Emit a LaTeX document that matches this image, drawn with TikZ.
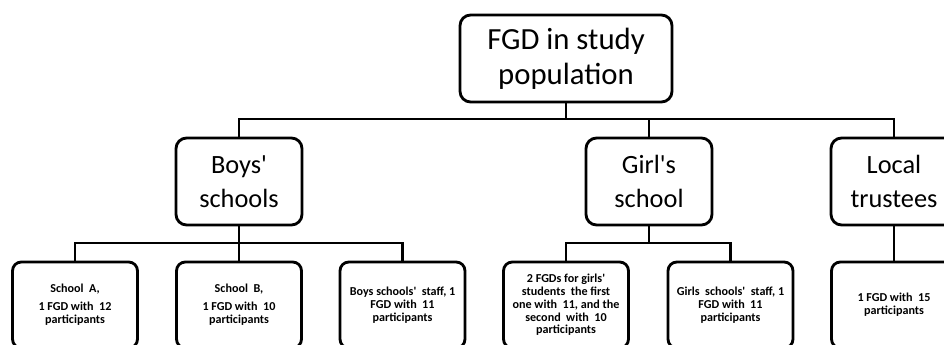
\documentclass[tikz,border=0pt]{standalone}
\usepackage{fontspec}
\setmainfont{Carlito}
\usetikzlibrary{positioning, calc}
\newcommand{\sq}{\textquotesingle}
\tikzset{
    bigbox/.style={draw, rounded corners=6pt, line width=1.6pt, align=center,
        font=\fontsize{15}{19.5}\selectfont, minimum height=1.74cm, inner sep=2pt},
    smallbox/.style={draw, rounded corners=5pt, line width=1.6pt, align=center,
        font=\bfseries\fontsize{6.9}{7.3}\selectfont, minimum width=2.5cm, minimum height=1.72cm, inner sep=1pt},
    bar/.style={line width=1.6pt}
}

\begin{document}
\begin{tikzpicture}[x=0.02cm, y=-0.02cm]
    \useasboundingbox (0,0) rectangle (944,345);
    \clip (0,0) rectangle (944,345);
    \coordinate (bus1) at (0,119);
    \coordinate (bus2) at (0,243);
    % first two levels
    \node[bigbox, minimum width=4.24cm, font=\fontsize{17.5}{20}\selectfont] (fgd) at (566,58.5) {FGD in study\\population};
    \node[bigbox, minimum width=2.52cm] (boys) at (239,181.5) {Boys\sq\\schools};
    \node[bigbox, minimum width=2.52cm] (girls) at (649,181.5) {Girl\sq s\\school};
    \node[bigbox, minimum width=2.52cm] (local) at (894,181.5) {Local\\trustees};
    % groups
    \node[smallbox] (schA) at (75,305) {School\ \ A,\\[3pt]1 FGD with\ \ 12\\participants};
    \node[smallbox] (schB) at (239,305) {School\ \ B,\\[3pt]1 FGD with\ \ 10\\participants};
    \node[smallbox] (bstaff) at (402.5,305) {Boys schools\sq\ \ staff, 1\\FGD with\ \ 11\\participants};
    \node[smallbox] (gstud) at (566,305) {2 FGDs for girls\sq\\students\ \ the first\\one with\ \ 11, and the\\second\ \ with\ \ 10\\participants};
    \node[smallbox] (gstaff) at (730.5,305) {Girls\ \ schools\sq\ \ staff, 1\\FGD with\ \ 11\\participants};
    \node[smallbox] (trust) at (894,305) {1 FGD with\ \ 15\\participants};
    % connectors
    \draw[bar] (fgd.south) -- (fgd.south |- bus1);
    \draw[bar] (boys.north) |- (local.north |- bus1) -- (local.north);
    \draw[bar] (girls.north) -- (girls.north |- bus1);
    \draw[bar] (boys.south) -- (boys.south |- bus2);
    \draw[bar] (schA.north) |- (bstaff.north |- bus2) -- (bstaff.north);
    \draw[bar] (schB.north) -- (schB.north |- bus2);
    \draw[bar] (girls.south) -- (girls.south |- bus2);
    \draw[bar] (gstud.north) |- (gstaff.north |- bus2) -- (gstaff.north);
    \draw[bar] (local.south) -- (trust.north);
\end{tikzpicture}
\end{document}
